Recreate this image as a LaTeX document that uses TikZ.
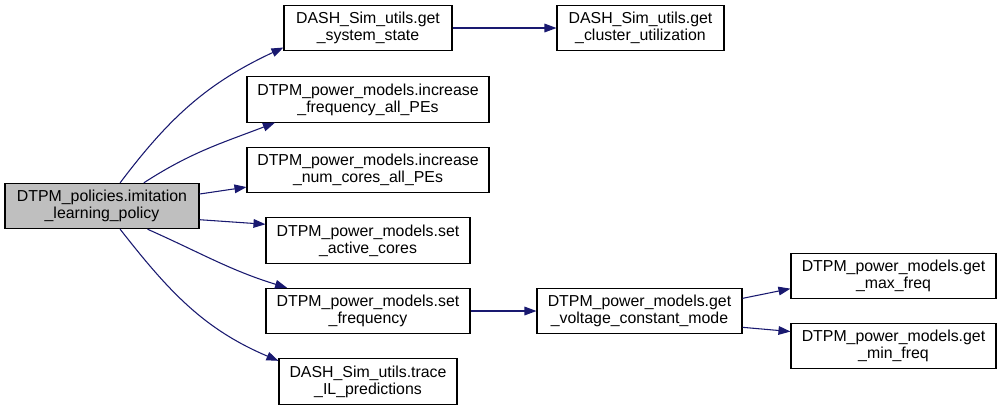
\documentclass[tikz,border=0pt]{standalone}
\usepackage{fontspec}
\setmainfont{Liberation Sans}
\usetikzlibrary{arrows.meta}

\definecolor{callblue}{HTML}{191970}
\definecolor{curgray}{HTML}{BFBFBF}

\begin{document}
\begin{tikzpicture}[x=0.75pt,y=-0.75pt,
    fn/.style={draw, line width=0.8pt, fill=white, align=center, inner sep=0pt,
      minimum height=34pt, font=\fontsize{11.9}{12.8}\selectfont},
    call/.style={-{Triangle[length=9pt,width=6.5pt]}, callblue, line width=0.8pt}]

        % Page
        \fill[white] (0,0) rectangle (1001,411);
        \useasboundingbox (0,0) rectangle (1001,411);

        % Caller
        \node[fn, fill=curgray, minimum width=145.5pt] (main) at (102,206)
            {DTPM\_policies.imitation\\\_learning\_policy};

        % Direct callees
        \node[fn, minimum width=126pt] (sys) at (368,28)
            {DASH\_Sim\_utils.get\\\_system\_state};
        \node[fn, minimum width=181.5pt] (incf) at (368,99.5)
            {DTPM\_power\_models.increase\\\_frequency\_all\_PEs};
        \node[fn, minimum width=181.5pt] (incn) at (368,170)
            {DTPM\_power\_models.increase\\\_num\_cores\_all\_PEs};
        \node[fn, minimum width=153pt] (act) at (368,240.5)
            {DTPM\_power\_models.set\\\_active\_cores};
        \node[fn, minimum width=153pt] (freq) at (368,311)
            {DTPM\_power\_models.set\\\_frequency};
        \node[fn, minimum width=133.5pt] (trace) at (368,381.5)
            {DASH\_Sim\_utils.trace\\\_IL\_predictions};

        % Second level
        \node[fn, minimum width=125.25pt] (clu) at (640.5,28)
            {DASH\_Sim\_utils.get\\\_cluster\_utilization};
        \node[fn, minimum width=153.75pt] (volt) at (639.5,311)
            {DTPM\_power\_models.get\\\_voltage\_constant\_mode};

        % Third level
        \node[fn, minimum width=153.75pt] (maxf) at (893.5,276)
            {DTPM\_power\_models.get\\\_max\_freq};
        \node[fn, minimum width=153.75pt] (minf) at (893.5,346)
            {DTPM\_power\_models.get\\\_min\_freq};

        % Calls from the policy
        \draw[call] (main.52) to[out=53,in=205] (sys.193);
        \draw[call] (main.29) to[out=33,in=201] (incf.194);
        \draw[call] (main.7.6) -- (incn.188.5);
        \draw[call] (main.352.4) -- (act.171.9);
        \draw[call] (main.-27) to[out=-24,in=163] (freq.164.5);
        \draw[call] (main.-52) to[out=-52,in=157] (trace.167.6);

        % Further calls
        \draw[call] (sys) -- (clu);
        \draw[call] (freq) -- (volt);
        \draw[call] (volt.7.8) -- (maxf.187.8);
        \draw[call] (volt.351.7) -- (minf.172.2);

    \end{tikzpicture}
\end{document}
